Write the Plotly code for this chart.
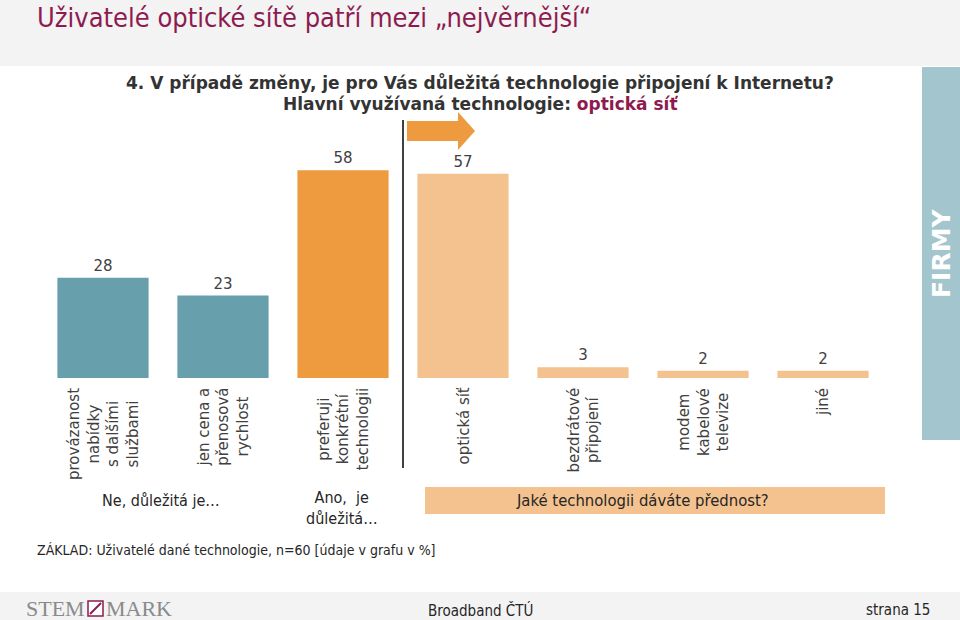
import plotly.graph_objects as go

categories = [
    "provázanost<br>nabídky<br>s dalšími<br>službami",
    "jen cena a<br>přenosová<br>rychlost",
    "preferuji<br>konkrétní<br>technologii",
    "optická síť",
    "bezdrátové<br>připojení",
    "modem<br>kabelové<br>televize",
    "jiné",
]
values = [28, 23, 58, 57, 3, 2, 2]
bar_colors = ["#689fad", "#689fad", "#ee9b40", "#f4c28f", "#f4c28f", "#f4c28f", "#f4c28f"]

title = "Uživatelé optické sítě patří mezi „nejvěrnější“"
question1 = "4. V případě změny, je pro Vás důležitá technologie připojení k Internetu?"
question2 = "Hlavní využívaná technologie: <span style='color:#8e1b4f'>optická síť</span>"
group_labels = ["Ne, důležitá je…", "Ano,  je<br>důležitá…", "Jaké technologii dáváte přednost?"]
base_note = "ZÁKLAD: Uživatelé dané technologie, n=60 [údaje v grafu v %]"

W, H = 960, 620
L, R, T, B = 43, 883, 120, 378

def X(px):
    return (px - L) / (R - L)

def Y(py):
    return (B - py) / (B - T)

xs = list(range(len(values)))

fig = go.Figure(go.Bar(
    x=xs, y=values, width=0.76,
    marker=dict(color=bar_colors, line=dict(width=0)),
    text=[str(v) for v in values], textposition="outside",
    textfont=dict(family="DejaVu Sans", size=15, color="#404040"),
    cliponaxis=False, hoverinfo="skip",
))

cond = "Liberation Sans Narrow, DejaVu Sans Condensed, sans-serif"

shapes = [
    dict(type="rect", xref="paper", yref="paper", x0=X(0), x1=X(W), y0=Y(66), y1=Y(0),
         fillcolor="#f3f3f3", line=dict(width=0), layer="below"),
    dict(type="rect", xref="paper", yref="paper", x0=X(0), x1=X(W), y0=Y(H), y1=Y(592),
         fillcolor="#f3f3f3", line=dict(width=0), layer="below"),
    dict(type="rect", xref="paper", yref="paper", x0=X(922), x1=X(W), y0=Y(440), y1=Y(67),
         fillcolor="#a3c5cd", line=dict(width=0)),
    dict(type="line", xref="paper", yref="paper", x0=X(403), x1=X(403), y0=Y(468), y1=Y(120),
         line=dict(color="#000000", width=1.5)),
    dict(type="rect", xref="paper", yref="paper", x0=X(425), x1=X(885), y0=Y(514), y1=Y(487),
         fillcolor="#f4c28f", line=dict(width=0)),
    dict(type="rect", xref="paper", yref="paper", x0=X(88), x1=X(103), y0=Y(616), y1=Y(601),
         fillcolor="#ffffff", line=dict(color="#8e1b4f", width=1.5)),
    dict(type="line", xref="paper", yref="paper", x0=X(90), x1=X(101), y0=Y(614), y1=Y(603),
         line=dict(color="#8e1b4f", width=2)),
]

ax = [407, 458, 458, 475, 458, 458, 407]
ay = [121, 121, 112, 131, 150, 141, 141]
path = "M " + " L ".join(f"{X(a):.5f},{Y(b):.5f}" for a, b in zip(ax, ay)) + " Z"
shapes.append(dict(type="path", xref="paper", yref="paper", path=path,
                   fillcolor="#ee9b40", line=dict(width=0)))

annotations = []
for i, c in enumerate(categories):
    annotations.append(dict(x=i, xref="x", y=Y(386), yref="paper", text=c, textangle=-90,
                            showarrow=False, xanchor="center", yanchor="top", align="center",
                            font=dict(family="DejaVu Sans", size=15, color="#404040")))

annotations += [
    dict(x=X(35), y=Y(18), xref="paper", yref="paper", text=title, showarrow=False,
         xanchor="left", yanchor="middle",
         font=dict(family=cond, size=27, color="#8e1b4f")),
    dict(x=X(480), y=Y(82), xref="paper", yref="paper", text="<b>" + question1 + "</b>",
         showarrow=False, xanchor="center", yanchor="middle",
         font=dict(family="DejaVu Sans", size=17, color="#333333")),
    dict(x=X(480), y=Y(104), xref="paper", yref="paper", text="<b>" + question2 + "</b>",
         showarrow=False, xanchor="center", yanchor="middle",
         font=dict(family="DejaVu Sans", size=17, color="#333333")),
    dict(x=X(941), y=Y(253), xref="paper", yref="paper", text="<b>FIRMY</b>", textangle=-90,
         showarrow=False, xanchor="center", yanchor="middle",
         font=dict(family="DejaVu Sans", size=25, color="#ffffff")),
    dict(x=X(161), y=Y(500), xref="paper", yref="paper", text=group_labels[0], showarrow=False,
         xanchor="center", yanchor="middle", font=dict(family=cond, size=16, color="#262626")),
    dict(x=X(342), y=Y(508), xref="paper", yref="paper", text=group_labels[1], showarrow=False,
         xanchor="center", yanchor="middle", align="center",
         font=dict(family=cond, size=16, color="#262626")),
    dict(x=X(642), y=Y(500), xref="paper", yref="paper", text=group_labels[2], showarrow=False,
         xanchor="center", yanchor="middle", font=dict(family=cond, size=16.5, color="#262626")),
    dict(x=X(35), y=Y(550), xref="paper", yref="paper", text=base_note, showarrow=False,
         xanchor="left", yanchor="middle", font=dict(family=cond, size=14, color="#262626")),
    dict(x=X(87), y=Y(608), xref="paper", yref="paper", text="STEM", showarrow=False,
         xanchor="right", yanchor="middle",
         font=dict(family="Liberation Serif, DejaVu Serif", size=22, color="#8a8a8a")),
    dict(x=X(104), y=Y(608), xref="paper", yref="paper", text="MARK", showarrow=False,
         xanchor="left", yanchor="middle",
         font=dict(family="Liberation Serif, DejaVu Serif", size=22, color="#8a8a8a")),
    dict(x=X(480), y=Y(610), xref="paper", yref="paper", text="Broadband ČTÚ", showarrow=False,
         xanchor="center", yanchor="middle", font=dict(family=cond, size=15, color="#262626")),
    dict(x=X(932), y=Y(610), xref="paper", yref="paper", text="strana 15", showarrow=False,
         xanchor="right", yanchor="middle", font=dict(family=cond, size=15, color="#262626")),
]

fig.update_layout(
    width=W, height=H,
    margin=dict(l=L, r=W - R, t=T, b=H - B, pad=0),
    paper_bgcolor="#ffffff", plot_bgcolor="rgba(0,0,0,0)",
    showlegend=False,
    xaxis=dict(range=[-0.5, 6.5], visible=False, fixedrange=True),
    yaxis=dict(range=[0, 72], visible=False, fixedrange=True),
    shapes=shapes, annotations=annotations,
)

fig.write_html("out.html", include_plotlyjs=True, config={"displayModeBar": False},
               post_script="document.body.style.margin='0';document.body.style.overflow='hidden';")
